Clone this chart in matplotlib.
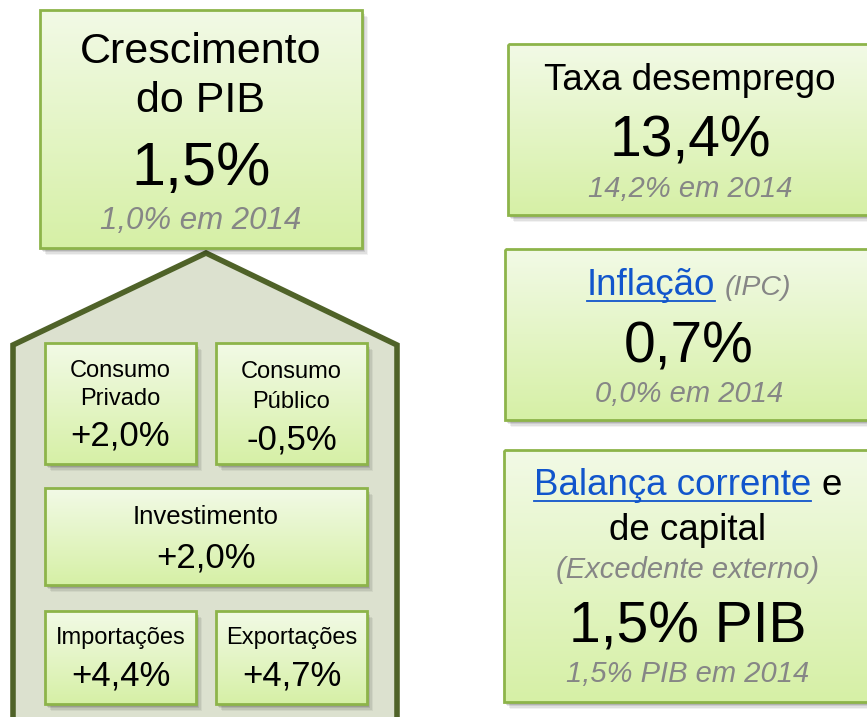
import numpy as np
import matplotlib.pyplot as plt
from matplotlib.patches import Rectangle, Polygon

# ---- content ----
pib_title = ['Crescimento', 'do PIB']
pib_value = '1,5%'
pib_prev = '1,0% em 2014'

desemprego_title = 'Taxa desemprego'
desemprego_value = '13,4%'
desemprego_prev = '14,2% em 2014'

inflacao_title = 'Inflação'
inflacao_note = '(IPC)'
inflacao_value = '0,7%'
inflacao_prev = '0,0% em 2014'

balanca_title = 'Balança corrente'
balanca_title2 = 'de capital'
balanca_note = '(Excedente externo)'
balanca_value = '1,5% PIB'
balanca_prev = '1,5% PIB em 2014'

componentes = [['Consumo', 'Privado'], ['Consumo', 'Público'], ['Investimento'],
               ['Importações'], ['Exportações']]
componentes_val = ['+2,0%', '-0,5%', '+2,0%', '+4,4%', '+4,7%']

FONT = 'Liberation Sans'
GRAY = '#868686'
LINK = '#1155cc'
BORDER = '#8db44a'
TOP_C = np.array([0xf2, 0xfa, 0xe6]) / 255
BOT_C = np.array([0xd6, 0xf0, 0xa6]) / 255

fig = plt.figure(figsize=(8.67, 7.17), dpi=100)
ax = fig.add_axes([0, 0, 1, 1])
ax.set_xlim(0, 867)
ax.set_ylim(717, 0)
ax.axis('off')


def box(x0, y0, x1, y1):
    # soft shadow
    for i, a in enumerate([0.12, 0.09, 0.07, 0.05]):
        d = 2 + i * 1.3
        ax.add_patch(Rectangle((x0 + d, y0 + d + 1), x1 - x0, y1 - y0,
                               facecolor='black', edgecolor='none', alpha=a, zorder=2))
    grad = np.linspace(0, 1, 100)[:, None, None]
    img = TOP_C[None, None, :] * (1 - grad) + BOT_C[None, None, :] * grad
    ax.imshow(img, extent=[x0, x1, y1, y0], origin='upper', aspect='auto', zorder=3)
    ax.add_patch(Rectangle((x0, y0), x1 - x0, y1 - y0, facecolor='none',
                           edgecolor=BORDER, linewidth=2, zorder=4))


def txt(x, y, s, size, color='black', style='normal'):
    return ax.text(x, y, s, fontsize=size, color=color, style=style, family=FONT,
                   ha='center', va='baseline', zorder=5)


renderer = fig.canvas.get_renderer()


def row(cx, y, parts, gap=8):
    # parts: (text, size, color, style, underline)
    objs = []
    widths = []
    for s, size, color, style, ul in parts:
        t = ax.text(0, y, s, fontsize=size, color=color, style=style, family=FONT,
                    ha='left', va='baseline', zorder=5)
        widths.append(t.get_window_extent(renderer).width)
        objs.append(t)
    total = sum(widths) + gap * (len(parts) - 1)
    x = cx - total / 2
    for t, w, p in zip(objs, widths, parts):
        t.set_x(x)
        if p[4]:
            ax.plot([x, x + w], [y + 6, y + 6], color=p[2], linewidth=1.3, zorder=5)
        x += w + gap


# house (bottom runs off the picture)
house = Polygon([(13, 740), (13, 345), (206, 253), (397, 345), (397, 740)],
                closed=True, facecolor='#dce1cf', edgecolor='#4f6228', linewidth=4,
                joinstyle='miter', zorder=1)
ax.add_patch(house)

# main PIB box
box(40, 10, 362, 248)
txt(201, 63, pib_title[0], 31)
txt(201, 112, pib_title[1], 31)
txt(201, 185, pib_value, 44)
txt(201, 229, pib_prev, 22.5, GRAY, 'italic')

# right boxes
box(508, 44, 872, 215)
txt(690, 90, desemprego_title, 26.5)
txt(690, 157, desemprego_value, 41)
txt(690, 197, desemprego_prev, 21, GRAY, 'italic')

box(505, 249, 872, 420)
row(689, 295, [(inflacao_title, 26.5, LINK, 'normal', True),
               (inflacao_note, 20.5, GRAY, 'italic', False)], gap=10)
txt(689, 362, inflacao_value, 41)
txt(689, 402, inflacao_prev, 21, GRAY, 'italic')

box(504, 450, 872, 702)
row(688, 495, [(balanca_title, 26.5, LINK, 'normal', True),
               ('e', 26.5, 'black', 'normal', False)], gap=11)
txt(688, 540, balanca_title2, 26.5)
txt(688, 578, balanca_note, 21, GRAY, 'italic')
txt(688, 643, balanca_value, 41)
txt(688, 682, balanca_prev, 21, GRAY, 'italic')

# component boxes inside the house
comp_boxes = [(45, 343, 196, 464), (216, 343, 367, 464), (45, 488, 367, 585),
              (45, 611, 196, 704), (216, 611, 367, 704)]
label_base = [[377, 405], [378, 408], [524], [644], [644]]
value_base = [445, 450, 568, 686, 686]
for (x0, y0, x1, y1), labels, lb, val, vb in zip(comp_boxes, componentes, label_base,
                                                  componentes_val, value_base):
    box(x0, y0, x1, y1)
    cx = (x0 + x1) / 2
    size = 18.5 if labels[0] == 'Investimento' else 17
    for s, b in zip(labels, lb):
        txt(cx, b, s, size)
    txt(cx, vb, val, 25)

ax.set_xlim(0, 867)
ax.set_ylim(717, 0)
fig.savefig('out.png', dpi=100)
